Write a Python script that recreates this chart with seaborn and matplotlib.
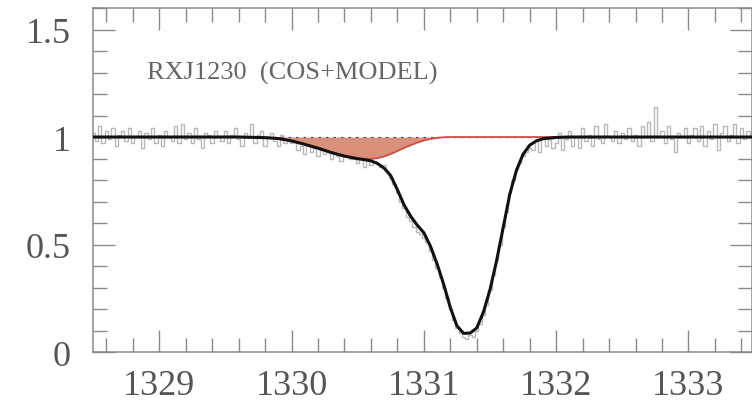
import numpy as np
import pandas as pd
import matplotlib
matplotlib.use('Agg')
import matplotlib.pyplot as plt
from matplotlib.ticker import MultipleLocator
import seaborn as sns

# espectro observado (COS), passo de 0.025 A a partir de 1328.5
wave_start = 1328.5
wave_step = 0.025
fluxo_obs = [
    1.02, 0.98, 1.05, 0.97, 1.03, 0.99, 1.04, 0.96, 1.01, 1.03,
    0.98, 1.04, 0.97, 1.00, 1.03, 0.95, 1.02, 0.99, 1.04, 0.97,
    1.01, 0.96, 1.03, 1.00, 0.98, 1.05, 0.97, 1.06, 0.99, 1.02,
    0.97, 1.04, 0.99, 0.95, 1.02, 1.01, 0.97, 1.03, 1.00, 0.98,
    1.03, 0.97, 1.01, 1.04, 0.99, 0.96, 1.02, 1.00, 1.06, 0.97,
    1.01, 1.03, 0.96, 1.00, 1.02, 0.98, 0.96, 1.01, 0.97, 0.99,
    0.97, 0.99, 0.94, 0.96, 0.92, 0.97, 0.93, 0.95, 0.91, 0.96,
    0.92, 0.94, 0.90, 0.93, 0.91, 0.89, 0.92, 0.94, 0.90, 0.91,
    0.88, 0.90, 0.86, 0.91, 0.87, 0.89, 0.88, 0.86, 0.87, 0.84,
    0.81, 0.78, 0.74, 0.70, 0.67, 0.63, 0.61, 0.58, 0.56, 0.55,
    0.53, 0.51, 0.47, 0.43, 0.39, 0.35, 0.30, 0.25, 0.20, 0.15,
    0.11, 0.09, 0.07, 0.06, 0.08, 0.07, 0.10, 0.13, 0.17, 0.22,
    0.29, 0.36, 0.43, 0.50, 0.58, 0.65, 0.74, 0.80, 0.85, 0.88,
    0.91, 0.93, 0.95, 0.94, 0.98, 0.93, 1.00, 0.96, 0.99, 0.95,
    0.97, 1.02, 0.94, 0.99, 1.03, 0.96, 1.00, 0.95, 1.04, 0.98,
    1.01, 0.96, 1.05, 0.99, 0.97, 1.06, 1.00, 0.98, 1.03, 0.97,
    1.02, 0.99, 1.04, 0.98, 1.01, 0.96, 1.05, 1.00, 1.07, 0.98,
    1.14, 1.00, 1.03, 0.97, 1.05, 0.99, 0.93, 1.02, 1.00, 1.04,
    0.97, 1.01, 1.04, 0.98, 1.05, 0.96, 1.03, 0.99, 1.06, 0.94,
    1.02, 1.05, 0.98, 1.01, 1.06, 0.97, 1.04, 0.99, 1.03, 1.00,
    1.02,
]
onda_obs = wave_start + wave_step * np.arange(len(fluxo_obs))

# modelo total (linha preta)
onda_modelo = [1328.5, 1329.6, 1329.8, 1329.9, 1330.0, 1330.1, 1330.2, 1330.3,
               1330.4, 1330.5, 1330.55, 1330.6, 1330.65, 1330.7, 1330.75, 1330.8,
               1330.85, 1330.9, 1330.95, 1331.0, 1331.05, 1331.1, 1331.15, 1331.2,
               1331.25, 1331.3, 1331.35, 1331.4, 1331.45, 1331.5, 1331.55, 1331.6,
               1331.65, 1331.7, 1331.75, 1331.8, 1331.85, 1331.9, 1332.0, 1332.1,
               1333.5]
fluxo_modelo = [1.0, 1.0, 0.997, 0.993, 0.982, 0.966, 0.948, 0.928,
                0.911, 0.899, 0.895, 0.889, 0.877, 0.855, 0.82, 0.755,
                0.685, 0.632, 0.59, 0.555, 0.492, 0.41, 0.315, 0.207,
                0.122, 0.087, 0.088, 0.112, 0.185, 0.29, 0.425, 0.58,
                0.735, 0.845, 0.92, 0.962, 0.982, 0.992, 0.998, 1.0,
                1.0]

# componente larga (linha vermelha)
onda_larga = [1328.5, 1329.6, 1329.8, 1329.9, 1330.0, 1330.1, 1330.2, 1330.3,
              1330.4, 1330.5, 1330.55, 1330.6, 1330.65, 1330.7, 1330.75, 1330.8,
              1330.85, 1330.9, 1330.95, 1331.0, 1331.05, 1331.1, 1331.15, 1331.2,
              1333.5]
fluxo_larga = [1.0, 1.0, 0.997, 0.993, 0.982, 0.966, 0.948, 0.928,
               0.911, 0.9, 0.897, 0.898, 0.902, 0.91, 0.921, 0.935,
               0.949, 0.962, 0.974, 0.984, 0.991, 0.996, 0.999, 1.0,
               1.0]

rotulo = 'RXJ1230  (COS+MODEL)'

sns.set_style('ticks')
plt.rcParams['font.family'] = ['Liberation Serif', 'DejaVu Serif']

cinza = '#8a8a8a'
fig = plt.figure(figsize=(7.52, 4.06), dpi=100)
ax = fig.add_axes([0.1237, 0.1305, 0.8763, 0.8473])

df_obs = pd.DataFrame({'onda': onda_obs, 'fluxo': fluxo_obs})
sns.lineplot(data=df_obs, x='onda', y='fluxo', ax=ax, color='#b8b8b8',
             linewidth=1.0, drawstyle='steps-mid', zorder=2)

# preenchimento da componente larga
ax.fill_between(onda_larga, fluxo_larga, 1.0, color='#d98f7a', linewidth=0, zorder=3)
ax.axhline(1.0, color='#555555', linewidth=0.9, linestyle=(0, (2, 4)), zorder=4)

sns.lineplot(x=onda_larga, y=fluxo_larga, ax=ax, color='#cf4f44',
             linewidth=1.3, sort=False, zorder=5)
sns.lineplot(x=onda_modelo, y=fluxo_modelo, ax=ax, color='#111111',
             linewidth=2.2, sort=False, zorder=6)

ax.text(1328.91, 1.3, rotulo, fontsize=19, color='#666666', va='center', ha='left')

ax.set_xlim(1328.5, 1333.48)
ax.set_ylim(0, 1.6)
ax.set_xlabel('')
ax.set_ylabel('')

ax.xaxis.set_major_locator(MultipleLocator(1))
ax.xaxis.set_minor_locator(MultipleLocator(0.2))
ax.yaxis.set_major_locator(MultipleLocator(0.5))
ax.yaxis.set_minor_locator(MultipleLocator(0.1))
ax.set_yticks([0, 0.5, 1, 1.5])
ax.set_yticklabels(['0', '0.5', '1', '1.5'])

ax.tick_params(which='both', direction='in', top=True, right=True,
               color=cinza, width=1.0, labelcolor='#555555', labelsize=26)
ax.tick_params(which='major', length=16)
ax.tick_params(which='minor', length=10)
ax.tick_params(axis='x', which='major', pad=12)
ax.tick_params(axis='y', which='major', pad=16)

for lado in ax.spines.values():
    lado.set_color(cinza)
    lado.set_linewidth(1.1)

fig.savefig('out.png', dpi=100)
